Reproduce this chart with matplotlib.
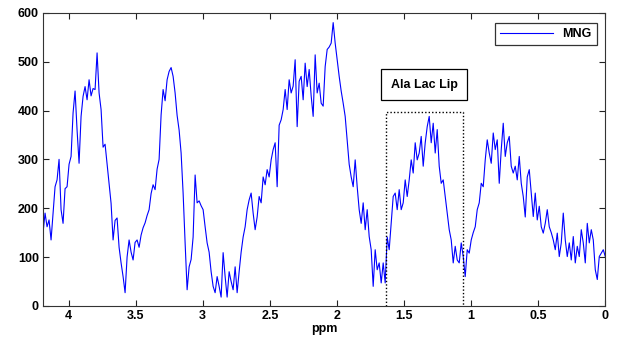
import numpy as np
import matplotlib
matplotlib.use("Agg")
import matplotlib.pyplot as plt
from matplotlib.ticker import FuncFormatter

# spectrum intensities, sampled evenly from 4.19 ppm down to 0 ppm
intensity = [
    150, 190, 162, 176, 135, 190, 244, 258, 300, 197, 169, 240, 244, 290, 306, 395,
    440, 360, 292, 388, 429, 449, 422, 463, 430, 445, 443, 518, 436, 402, 325, 331,
    290, 250, 210, 135, 175, 180, 120, 88, 60, 27, 100, 135, 110, 94, 130, 135,
    120, 145, 160, 170, 185, 197, 230, 248, 238, 280, 300, 391, 443, 420, 463, 480,
    488, 470, 436, 390, 360, 313, 231, 129, 33, 80, 95, 141, 268, 211, 215, 205,
    197, 162, 129, 110, 70, 40, 27, 60, 40, 18, 109, 60, 18, 70, 50, 33,
    80, 27, 70, 110, 141, 162, 197, 217, 231, 190, 156, 182, 224, 211, 264, 248,
    279, 264, 299, 320, 334, 244, 370, 381, 402, 443, 402, 463, 436, 450, 504, 367,
    460, 470, 422, 497, 449, 484, 430, 388, 514, 436, 456, 415, 409, 490, 525, 530,
    538, 580, 538, 504, 470, 440, 415, 388, 340, 290, 264, 244, 299, 244, 197, 169,
    211, 156, 197, 142, 115, 40, 115, 74, 88, 47, 88, 47, 141, 115, 170, 224,
    231, 197, 238, 197, 211, 258, 224, 258, 299, 272, 334, 299, 313, 347, 286, 334,
    367, 388, 334, 374, 313, 361, 286, 251, 258, 224, 190, 156, 135, 88, 122, 94,
    88, 129, 101, 60, 115, 108, 135, 150, 162, 197, 211, 251, 244, 299, 340, 313,
    292, 354, 320, 340, 251, 320, 374, 306, 334, 347, 286, 272, 286, 258, 306, 251,
    224, 182, 264, 279, 231, 183, 231, 176, 204, 162, 149, 169, 197, 162, 150, 135,
    115, 149, 101, 129, 190, 135, 101, 129, 94, 142, 88, 122, 101, 156, 129, 88,
    169, 129, 156, 135, 74, 54, 101, 108, 115, 101,
]
ppm_start, ppm_end = 4.19, 0.0
ppm = np.linspace(ppm_start, ppm_end, len(intensity))

series_label = "MNG"
annotation = "Ala Lac Lip"
region_ppm = [1.634, 1.06]
region_top = 397
x_ticks = [0, 0.5, 1, 1.5, 2, 2.5, 3, 3.5, 4]
y_ticks = [0, 100, 200, 300, 400, 500, 600]

plt.rcParams['font.family'] = ['Liberation Sans', 'DejaVu Sans']

fig = plt.figure(figsize=(6.24, 3.38), dpi=100)
ax = fig.add_axes([0.069, 0.095, 0.901, 0.867])

ax.plot(ppm, intensity, color=(0, 0, 1), lw=0.8, label=series_label)

ax.set_xlim(4.19, 0)
ax.set_ylim(0, 600)
ax.set_xticks(x_ticks)
ax.set_yticks(y_ticks)
ax.xaxis.set_major_formatter(FuncFormatter(lambda v, p: f"{v:g}"))
ax.tick_params(direction='in', top=True, right=True, length=4, width=0.8,
               labelsize=9, colors='#222222', labelcolor='black', pad=3)
for lab in ax.get_xticklabels() + ax.get_yticklabels():
    lab.set_fontweight('bold')
for s in ax.spines.values():
    s.set_color('#333333')
    s.set_linewidth(0.8)

ax.set_xlabel("ppm", fontsize=9, fontweight='bold', labelpad=1)

# dotted region box (three sides)
ax.plot([region_ppm[0], region_ppm[0], region_ppm[1], region_ppm[1]],
        [0, region_top, region_top, 0],
        ls=(0, (1, 1.5)), lw=1.0, color='black', zorder=3)

ax.text(1.35, 453, annotation, fontsize=9, fontweight='bold', ha='center', va='center',
        bbox=dict(boxstyle='square,pad=0.75', facecolor='white', edgecolor='black', lw=0.9))

leg = ax.legend(loc='upper right', frameon=True, fancybox=False,
                handlelength=4.2, borderpad=0.4, bbox_to_anchor=(0.996, 0.985),
                prop={'weight': 'bold', 'size': 9})
leg.get_frame().set_edgecolor('black')
leg.get_frame().set_linewidth(0.9)

fig.savefig("out.png", dpi=100)
